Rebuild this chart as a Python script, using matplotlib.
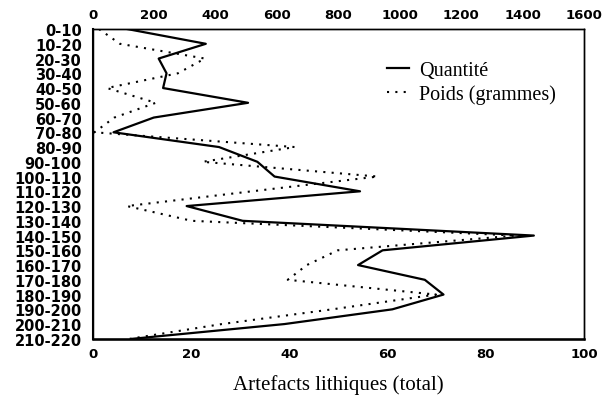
import numpy as np
import matplotlib
matplotlib.use('Agg')
from matplotlib import pyplot as plt

# depth classes (cm), top to bottom
categories = ['0-10', '10-20', '20-30', '30-40', '40-50', '50-60', '60-70', '70-80',
              '80-90', '90-100', '100-110', '110-120', '120-130', '130-140', '140-150',
              '150-160', '160-170', '170-180', '180-190', '190-200', '200-210', '210-220']
# number of lithic artefacts (bottom axis)
quantite = [7, 23, 13.4, 15, 14.3, 31.6, 12.4, 4.2, 25.7, 33.5, 37, 54.4, 19.1, 30.5,
            89.8, 59, 54, 67.6, 71.4, 61, 39, 8]
# weight in grams (top axis)
poids = [20, 88, 365, 277, 46, 205, 70, 5, 658, 358, 928, 518, 111, 322,
         1378, 798, 697, 635, 1118, 780, 420, 120]

pos = np.arange(len(categories))

fig, ax = plt.subplots(figsize=(6.07, 4.06), dpi=100)
fig.subplots_adjust(left=0.153, right=0.962, top=0.926, bottom=0.163)

l1, = ax.plot(quantite, pos, color='black', lw=1.6, label='Quantité')
ax.set_xlim(0, 100)
ax.set_ylim(len(categories) - 1, 0)
ax.set_xticks(np.arange(0, 101, 20))
ax.set_yticks(pos)
ax.set_yticklabels(categories)

ax2 = ax.twiny()
l2, = ax2.plot(poids, pos, color='black', lw=1.5, linestyle=(0, (1, 3)),
               label='Poids (grammes)')
ax2.set_xlim(0, 1600)
ax2.set_xticks(np.arange(0, 1601, 200))

for a in (ax, ax2):
    for lab in a.get_xticklabels():
        lab.set_fontweight('bold')
        lab.set_fontsize(9.5)
        lab.set_family('DejaVu Sans')
    a.tick_params(length=0, pad=6)
    for s in a.spines.values():
        s.set_linewidth(1.0)
for lab in ax.get_yticklabels():
    lab.set_fontweight('bold')
    lab.set_fontsize(10.5)
    lab.set_family('DejaVu Sans')
ax.tick_params(axis='y', pad=8)
ax.spines['bottom'].set_linewidth(1.8)
ax.spines['left'].set_linewidth(1.5)

ax.set_xlabel('Artefacts lithiques (total)', fontsize=15, family='Liberation Serif',
              labelpad=10)

ax.legend(handles=[l1, l2], loc='upper right', bbox_to_anchor=(0.98, 0.955),
          frameon=False, prop={'family': 'Liberation Serif', 'size': 14.5},
          handlelength=1.1, handletextpad=0.5, labelspacing=0.2)

plt.savefig('out.png', dpi=100)
